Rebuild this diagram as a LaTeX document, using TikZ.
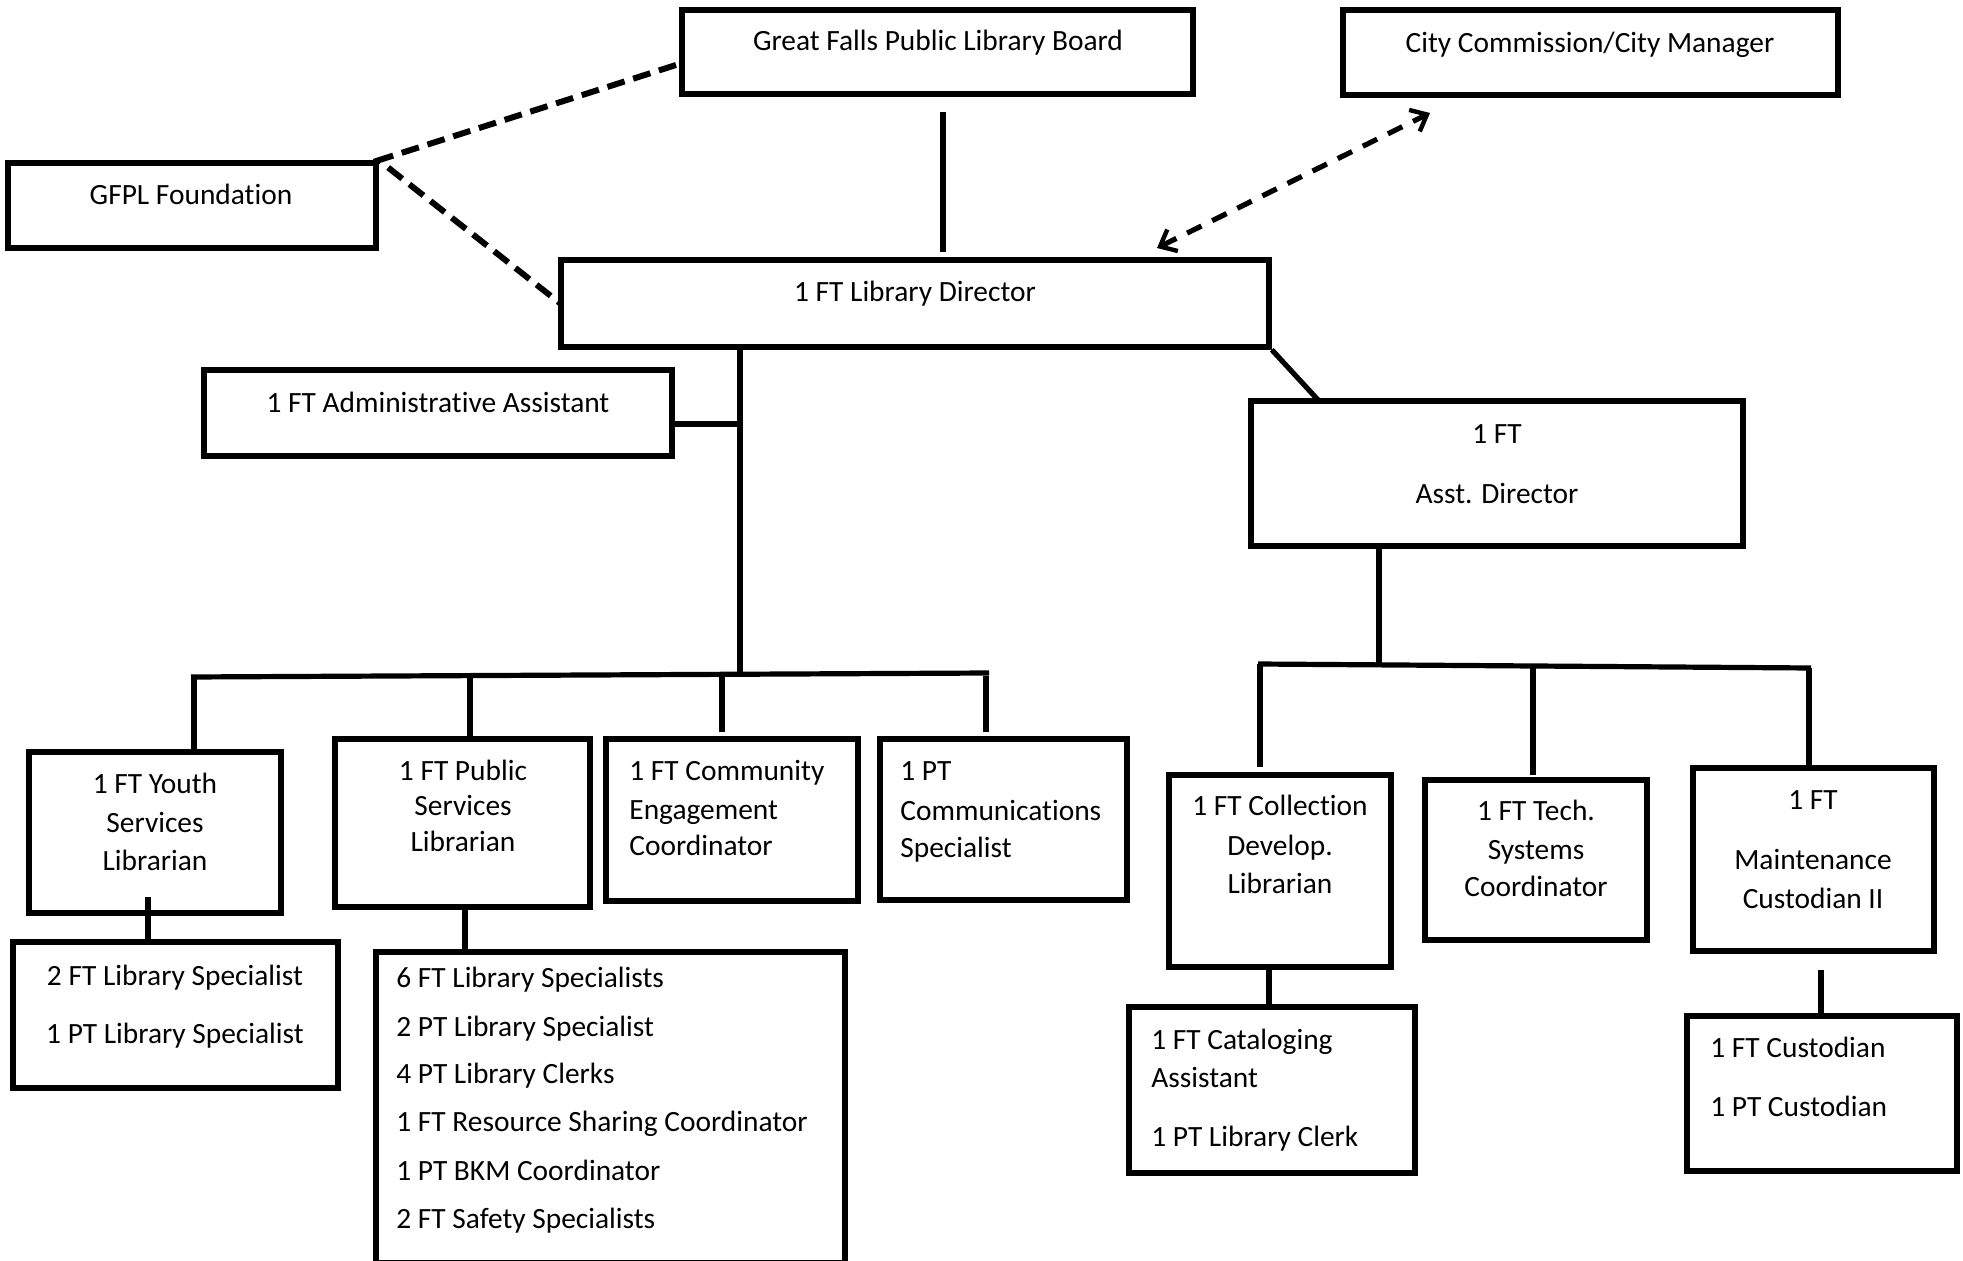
\documentclass[tikz,border=0pt]{standalone}
\usepackage{fontspec}
\setmainfont{Carlito}[Ligatures={NoCommon}]
\usetikzlibrary{arrows.meta,fit}
\newcommand\mybox[5]{\coordinate (#1-a) at (#2,#3); \coordinate (#1-b) at (#4,#5); \node[box, fit=(#1-a)(#1-b)] (#1) {};}
\begin{document}
\begin{tikzpicture}[x=0.5pt,y=-0.5pt,
  box/.style={draw, line width=2.8pt, inner sep=0pt, rectangle},
  txt/.style={font=\fontsize{14.7}{17}\selectfont, inner sep=0pt, anchor=mid, yshift=-2.5pt},
  ltxt/.style={txt, anchor=mid west},
  conn/.style={line width=2.6pt},
  dashline/.style={line width=3pt, dash pattern=on 9pt off 4.5pt},
  arrline/.style={line width=2.6pt, dash pattern=on 8pt off 6pt}
]
\fill[white] (0,0) rectangle (1963,1261);
\useasboundingbox (0,0) rectangle (1963,1261);

% boxes
\mybox{board}{682}{10}{1193}{94}
\mybox{city}{1343}{10}{1838}{95}
\mybox{found}{8}{163}{376}{248}
\mybox{dir}{561}{260}{1269}{347}
\mybox{admin}{204}{370}{672}{456}
\mybox{asst}{1251}{401}{1743}{546}
\mybox{youth}{29}{752}{281}{913}
\mybox{public}{335}{739}{590}{907}
\mybox{comm}{606}{739}{858}{901}
\mybox{ptcomm}{880}{739}{1127}{900}
\mybox{coll}{1169}{775}{1391}{967}
\mybox{tech}{1425}{780}{1647}{940}
\mybox{maint}{1693}{768}{1934}{951}
\mybox{ysub}{13}{942}{338}{1088}
\mybox{psub}{376}{952}{845}{1263}
\mybox{catal}{1129}{1007}{1415}{1173}
\mybox{cust}{1687}{1016}{1957}{1171}

% texts
\node[txt] (t-board) at (938,41) {Great Falls Public Library Board};
\node[txt] (t-city) at (1590,43) {City Commission/City Manager};
\node[txt] (t-found) at (191,195) {GFPL Foundation};
\node[txt] (t-dir) at (915,292) {1 FT Library Director};
\node[txt] (t-admin) at (438,403) {1 FT Administrative Assistant};
\node[txt] (t-asst1) at (1497,434) {1 FT};
\node[txt] (t-asst2) at (1497,494) {Asst. Director};
\node[txt] (t-y1) at (155,784) {1 FT Youth};
\node[txt] (t-y2) at (155,823) {Services};
\node[txt] (t-y3) at (155,861) {Librarian};
\node[txt] (t-p1) at (463,771) {1 FT Public};
\node[txt] (t-p2) at (463,806) {Services};
\node[txt] (t-p3) at (463,842) {Librarian};
\node[ltxt] (t-c1) at (629,771) {1 FT Community};
\node[ltxt] (t-c2) at (629,810) {Engagement};
\node[ltxt] (t-c3) at (629,846) {Coordinator};
\node[ltxt] (t-pc1) at (900,771) {1 PT};
\node[ltxt] (t-pc2) at (900,811) {Communications};
\node[ltxt] (t-pc3) at (900,848) {Specialist};
\node[txt] (t-co1) at (1280,806) {1 FT Collection};
\node[txt] (t-co2) at (1280,846) {Develop.};
\node[txt] (t-co3) at (1280,884) {Librarian};
\node[txt] (t-te1) at (1536,811) {1 FT Tech.};
\node[txt] (t-te2) at (1536,850) {Systems};
\node[txt] (t-te3) at (1536,887) {Coordinator};
\node[txt] (t-m1) at (1813,800) {1 FT};
\node[txt] (t-m2) at (1813,860) {Maintenance};
\node[txt] (t-m3) at (1813,899) {Custodian II};
\node[txt] (t-ys1) at (175,976) {2 FT Library Specialist};
\node[txt] (t-ys2) at (175,1034) {1 PT Library Specialist};
\node[ltxt] (t-ps1) at (396,978) {6 FT Library Specialists};
\node[ltxt] (t-ps2) at (396,1027) {2 PT Library Specialist};
\node[ltxt] (t-ps3) at (396,1074) {4 PT Library Clerks};
\node[ltxt] (t-ps4) at (396,1122) {1 FT Resource Sharing Coordinator};
\node[ltxt] (t-ps5) at (396,1171) {1 PT BKM Coordinator};
\node[ltxt] (t-ps6) at (396,1219) {2 FT Safety Specialists};
\node[ltxt] (t-ca1) at (1151,1040) {1 FT Cataloging};
\node[ltxt] (t-ca2) at (1151,1078) {Assistant};
\node[ltxt] (t-ca3) at (1151,1137) {1 PT Library Clerk};
\node[ltxt] (t-cu1) at (1710,1048) {1 FT Custodian};
\node[ltxt] (t-cu2) at (1710,1107) {1 PT Custodian};

% coordinates for connector free ends / junctions
\coordinate (bdtop) at (943,112);
\coordinate (bdbot) at (943,252);
\coordinate (fb) at (676,65);
\coordinate (fd) at (561,304);
\coordinate (arrA) at (1157,248);
\coordinate (arrB) at (1430,113);
\coordinate (da) at (1319,401);
\coordinate (tj) at (740,674);
\coordinate (adm) at (740,424);
\coordinate (bl) at (191,677);
\coordinate (br) at (989,673);
\coordinate (d1) at (194,677);
\coordinate (d2) at (470,676);
\coordinate (d3) at (722,674);
\coordinate (d3e) at (722,732);
\coordinate (d4) at (986,676);
\coordinate (d4e) at (986,732);
\coordinate (yj) at (148,897);
\coordinate (pj) at (465,907);
\coordinate (rj) at (1379,664);
\coordinate (rbl) at (1258,664);
\coordinate (rbr) at (1811,668);
\coordinate (r1) at (1260,664);
\coordinate (r1e) at (1260,767);
\coordinate (r2) at (1533,666);
\coordinate (r2e) at (1533,775);
\coordinate (r3) at (1809,668);
\coordinate (cj) at (1269,967);
\coordinate (mj) at (1821,970);

% connectors
\draw[conn] (bdtop) -- (bdbot);
\draw[dashline] (fb) -- (found.north east) -- (fd);
\draw[arrline, {Straight Barb[length=7pt,width=12pt,line width=2.2pt]}-{Straight Barb[length=7pt,width=12pt,line width=2.2pt]}] (arrA) -- (arrB);
\draw[conn] (dir.south east) -- (da);
\draw[conn] (dir.south -| tj) -- (tj);
\draw[conn] (admin.east |- adm) -- (adm);
\draw[conn] (bl) -- (br);
\draw[conn] (d1) -- (youth.north -| d1);
\draw[conn] (d2) -- (public.north -| d2);
\draw[conn] (d3) -- (d3e);
\draw[conn] (d4) -- (d4e);
\draw[conn] (yj) -- (ysub.north -| yj);
\draw[conn] (pj) -- (psub.north -| pj);
\draw[conn] (asst.south -| rj) -- (rj);
\draw[conn] (rbl) -- (rbr);
\draw[conn] (r1) -- (r1e);
\draw[conn] (r2) -- (r2e);
\draw[conn] (r3) -- (maint.north -| r3);
\draw[conn] (cj) -- (catal.north -| cj);
\draw[conn] (mj) -- (cust.north -| mj);
\end{tikzpicture}
\end{document}
